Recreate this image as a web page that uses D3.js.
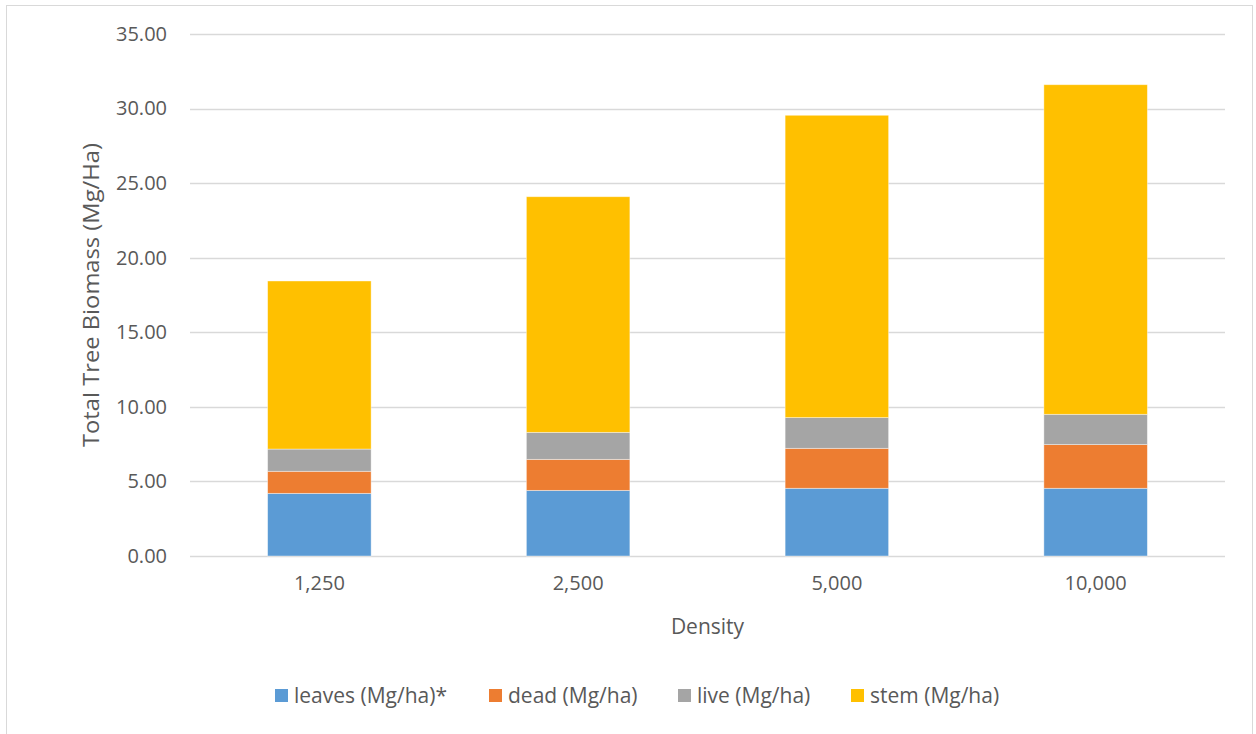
<!DOCTYPE html>
<html>
<head>
<meta charset="utf-8">
<script src="https://cdn.jsdelivr.net/npm/d3@7"></script>
<style>
  body { margin: 0; background: #fff; }
  svg { display: block; }
</style>
</head>
<body>
<svg id="chart" width="1256" height="734"></svg>
<script>
var densities = ["1,250", "2,500", "5,000", "10,000"];
var seriesNames = ["leaves (Mg/ha)*", "dead (Mg/ha)", "live (Mg/ha)", "stem (Mg/ha)"];
var leaves = [4.20, 4.40, 4.54, 4.54];
var dead = [1.48, 2.08, 2.68, 2.93];
var live = [1.49, 1.81, 2.06, 2.03];
var stem = [11.27, 15.80, 20.27, 22.10];
var yTicks = [0, 5, 10, 15, 20, 25, 30, 35];
var colors = ["#5B9BD5", "#ED7D31", "#A5A5A5", "#FFC000"];

var svg = d3.select("#chart");
var textColor = "#595959";

// chart border
svg.append("rect")
	.attr("x", 6.5).attr("y", 5.5)
	.attr("width", 1246).attr("height", 740)
	.attr("fill", "#fff")
	.attr("stroke", "#D9D9D9");

var plotLeft = 190, plotRight = 1225, plotTop = 34, plotBottom = 556;

var x = d3.scaleBand()
	.domain(densities)
	.range([plotLeft, plotRight])
	.paddingInner(0.6)
	.paddingOuter(0.3);

var y = d3.scaleLinear()
	.domain([0, 35])
	.range([plotBottom, plotTop]);

// gridlines
svg.append("g").selectAll("line")
	.data(yTicks)
	.enter().append("line")
	.attr("x1", plotLeft).attr("x2", plotRight)
	.attr("y1", function(d) { return Math.round(y(d)) + 0.5; })
	.attr("y2", function(d) { return Math.round(y(d)) + 0.5; })
	.attr("stroke", "#D9D9D9")
	.attr("stroke-width", 1.3);

// y axis labels
var yAxis = svg.append("g")
	.attr("transform", "translate(" + plotLeft + ",0)")
	.call(d3.axisLeft(y).tickValues(yTicks).tickSize(0).tickPadding(23)
		.tickFormat(d3.format(".2f")));
yAxis.select(".domain").remove();
yAxis.selectAll("text")
	.attr("fill", textColor)
	.style("font-family", "'Open Sans', sans-serif")
	.style("font-size", "20px");

// stacked bars
var table = densities.map(function(d, i) {
	return { density: d, 0: leaves[i], 1: dead[i], 2: live[i], 3: stem[i] };
});
var stacked = d3.stack().keys([0, 1, 2, 3])(table);

svg.append("g").selectAll("g")
	.data(stacked)
	.enter().append("g")
	.attr("fill", function(d, i) { return colors[i]; })
	.selectAll("rect")
	.data(function(d) { return d; })
	.enter().append("rect")
	.attr("x", function(d) { return x(d.data.density); })
	.attr("width", x.bandwidth())
	.attr("y", function(d) { return y(d[1]); })
	.attr("height", function(d) { return y(d[0]) - y(d[1]); })
	.attr("stroke", "rgba(255,255,255,0.5)")
	.attr("stroke-width", 0.8);

// x axis labels
var xAxis = svg.append("g")
	.attr("transform", "translate(0," + plotBottom + ")")
	.call(d3.axisBottom(x).tickSize(0).tickPadding(20));
xAxis.select(".domain").remove();
xAxis.selectAll("text")
	.attr("fill", textColor)
	.style("font-family", "'Open Sans', sans-serif")
	.style("font-size", "20px");

// axis titles
svg.append("text")
	.attr("x", (plotLeft + plotRight) / 2)
	.attr("y", 634)
	.attr("text-anchor", "middle")
	.attr("fill", textColor)
	.style("font-family", "'Open Sans', sans-serif")
	.style("font-size", "21px")
	.text("Density");

svg.append("text")
	.attr("transform", "translate(99," + (plotTop + plotBottom) / 2 + ") rotate(-90)")
	.attr("text-anchor", "middle")
	.attr("fill", textColor)
	.attr("textLength", 304)
	.attr("lengthAdjust", "spacingAndGlyphs")
	.style("font-family", "'Open Sans', sans-serif")
	.style("font-size", "21px")
	.text("Total Tree Biomass (Mg/Ha)");

// legend
var legendX = [275, 489, 678, 851];
var legend = svg.append("g").selectAll("g")
	.data(seriesNames)
	.enter().append("g")
	.attr("transform", function(d, i) { return "translate(" + legendX[i] + ",689)"; });

legend.append("rect")
	.attr("width", 13).attr("height", 13)
	.attr("fill", function(d, i) { return colors[i]; });

legend.append("text")
	.attr("x", 19)
	.attr("y", 14)
	.attr("fill", textColor)
	.style("font-family", "'Open Sans', sans-serif")
	.style("font-size", "21px")
	.text(function(d) { return d; });
</script>
</body>
</html>
